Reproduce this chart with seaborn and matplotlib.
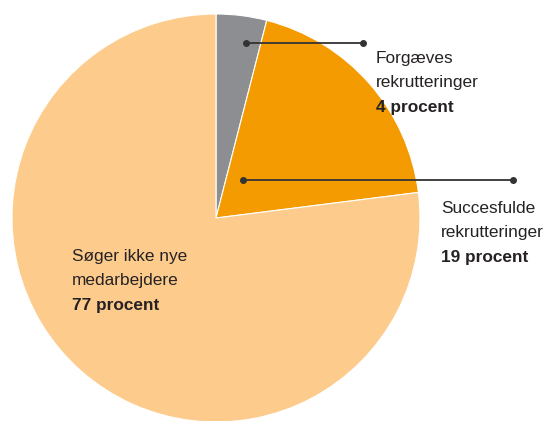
import matplotlib
matplotlib.use("Agg")
import matplotlib.pyplot as plt
import seaborn as sns

categories = ["Forgæves rekrutteringer", "Succesfulde rekrutteringer", "Søger ikke nye medarbejdere"]
values = [4, 19, 77]
colors = ["#8d8e91", "#f39b00", "#fdcb8c"]
label_lines = [["Forgæves", "rekrutteringer"], ["Succesfulde", "rekrutteringer"], ["Søger ikke nye", "medarbejdere"]]
value_labels = ["4 procent", "19 procent", "77 procent"]

sns.set_theme(style="white")
plt.rcParams['font.family'] = ['Liberation Sans', 'DejaVu Sans']

W, H = 546, 421
fig = plt.figure(figsize=(W / 100, H / 100), dpi=100)
ax = fig.add_axes([0, 0, 1, 1])

def Y(y):
    return H - y

cx, cy, r = 216, 218, 204
ax.pie(values, colors=colors, startangle=90, counterclock=False,
       center=(cx, Y(cy)), radius=r, frame=True,
       wedgeprops=dict(edgecolor="white", linewidth=0.8))
ax.set_xlim(0, W)
ax.set_ylim(0, H)
ax.set_aspect('equal')
ax.axis('off')

tc = "#262223"
lc = "#333333"
# leader lines
for (x0, x1, y) in [(246, 363, 43), (243, 513, 180)]:
    ax.plot([x0, x1], [Y(y), Y(y)], color=lc, lw=1.3, zorder=5)
    ax.plot([x0, x1], [Y(y), Y(y)], 'o', color=lc, ms=4, zorder=6)

positions = [(376, 63), (441, 213), (72, 261)]
step = 24.5
for (x, y), lines, vl in zip(positions, label_lines, value_labels):
    for i, t in enumerate(lines):
        ax.text(x, Y(y + i * step), t, fontsize=12.4, color=tc, va='baseline', ha='left')
    ax.text(x, Y(y + 2 * step), vl, fontsize=12.4, color=tc, va='baseline', ha='left', fontweight='bold')

fig.savefig("out.png", dpi=100)
